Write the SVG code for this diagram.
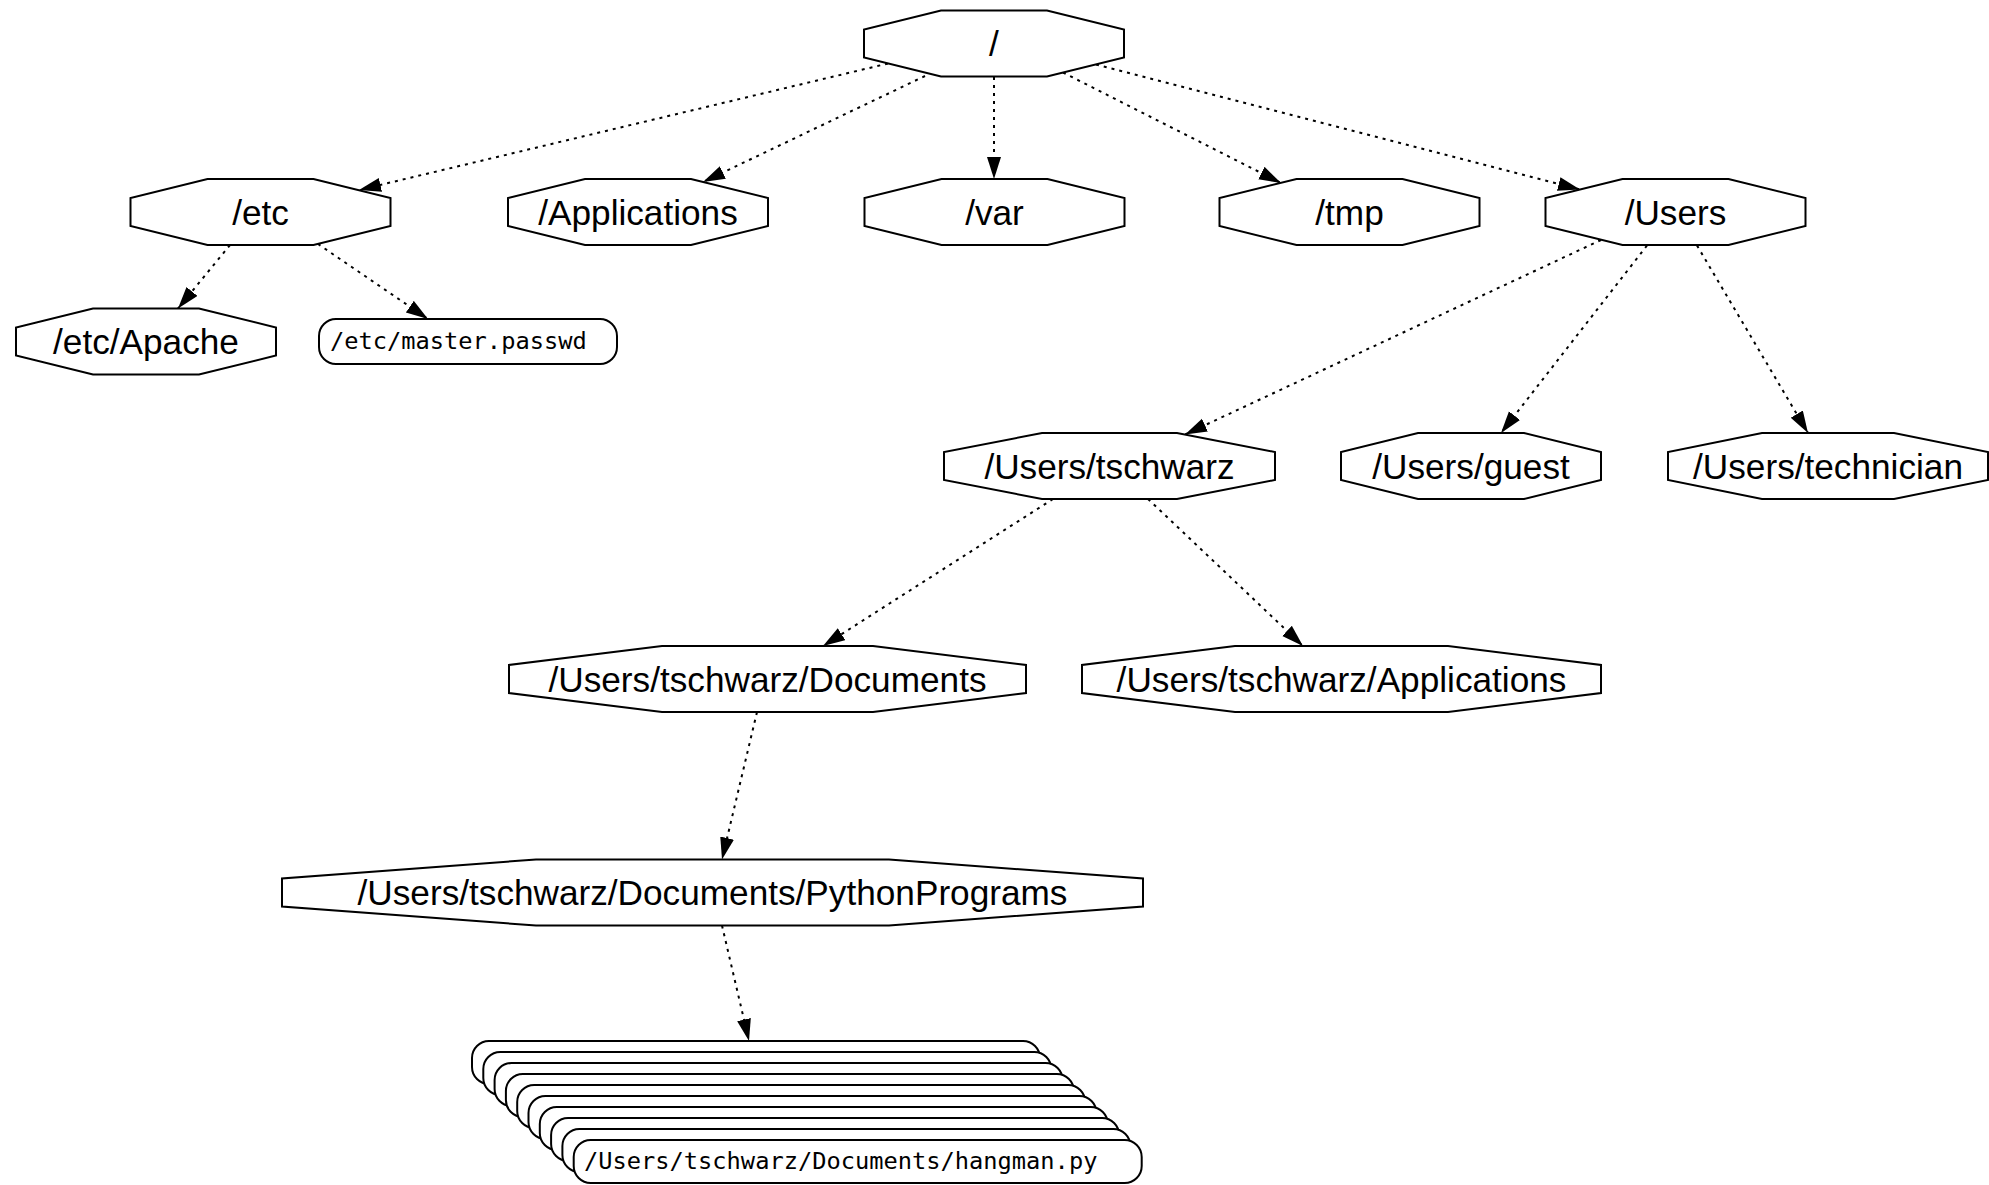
<svg xmlns="http://www.w3.org/2000/svg" width="1989" height="1185" viewBox="0 0 1989 1185">
<style>
.oct{fill:#fff;stroke:#000;stroke-width:2}
.rr{fill:#fff;stroke:#000;stroke-width:2}
.lbl{font-family:"Liberation Sans",Helvetica,Arial,sans-serif;font-size:35.2px;fill:#000;text-anchor:middle}
.mono{font-family:"DejaVu Sans Mono","Liberation Mono",monospace;font-size:23.7px;fill:#000}
.edge{fill:none;stroke:#000;stroke-width:2;stroke-dasharray:3 5}
</style>
<defs>
<marker id="ah" markerWidth="24" markerHeight="16" refX="22" refY="7" orient="auto" markerUnits="userSpaceOnUse">
<path d="M0,0 L22,7 L0,14 z" fill="#000"/>
</marker>
<polygon id="o260" points="-53,-33 53,-33 130,-14 130,14 53,33 -53,33 -130,14 -130,-14"/>
</defs>
<rect width="1989" height="1185" fill="#fff"/>
<g id="edges">
<line class="edge" x1="888" y1="63.5" x2="359" y2="190" marker-end="url(#ah)"/>
<line class="edge" x1="925" y1="76" x2="703" y2="182" marker-end="url(#ah)"/>
<line class="edge" x1="994" y1="77" x2="994" y2="179" marker-end="url(#ah)"/>
<line class="edge" x1="1063" y1="72.5" x2="1281" y2="183" marker-end="url(#ah)"/>
<line class="edge" x1="1096" y1="64.5" x2="1580" y2="189.5" marker-end="url(#ah)"/>
<line class="edge" x1="230" y1="245" x2="178" y2="308.5" marker-end="url(#ah)"/>
<line class="edge" x1="318" y1="244" x2="428" y2="319" marker-end="url(#ah)"/>
<line class="edge" x1="1601" y1="240" x2="1185" y2="434.5" marker-end="url(#ah)"/>
<line class="edge" x1="1647" y1="245.5" x2="1501" y2="433" marker-end="url(#ah)"/>
<line class="edge" x1="1697" y1="245.5" x2="1808" y2="433" marker-end="url(#ah)"/>
<line class="edge" x1="1053" y1="499" x2="823" y2="646" marker-end="url(#ah)"/>
<line class="edge" x1="1148" y1="499" x2="1303" y2="646" marker-end="url(#ah)"/>
<line class="edge" x1="757" y1="712" x2="722" y2="859.5" marker-end="url(#ah)"/>
<line class="edge" x1="722" y1="925.5" x2="749" y2="1041" marker-end="url(#ah)"/>
</g>
<g id="root" transform="translate(994,43.5)"><use href="#o260" class="oct"/><text class="lbl" y="12.5">/</text></g>
<g id="etc" transform="translate(260.5,212)"><use href="#o260" class="oct"/><text class="lbl" y="12.5">/etc</text></g>
<g id="applications" transform="translate(638,212)"><use href="#o260" class="oct"/><text class="lbl" y="12.5">/Applications</text></g>
<g id="var" transform="translate(994.5,212)"><use href="#o260" class="oct"/><text class="lbl" y="12.5">/var</text></g>
<g id="tmp" transform="translate(1349.5,212)"><use href="#o260" class="oct"/><text class="lbl" y="12.5">/tmp</text></g>
<g id="users" transform="translate(1675.5,212)"><use href="#o260" class="oct"/><text class="lbl" y="12.5">/Users</text></g>
<g id="etc-apache" transform="translate(146,341.5)"><use href="#o260" class="oct"/><text class="lbl" y="12.5">/etc/Apache</text></g>
<g id="etc-master-passwd"><rect class="rr" x="319" y="319" width="298" height="45" rx="17" ry="17"/><text class="mono" x="330" y="348.5">/etc/master.passwd</text></g>
<g id="users-tschwarz" transform="translate(1109.5,466)"><polygon class="oct" points="-67.5,-33 67.5,-33 165.5,-14 165.5,14 67.5,33 -67.5,33 -165.5,14 -165.5,-14"/><text class="lbl" y="12.5">/Users/tschwarz</text></g>
<g id="users-guest" transform="translate(1471,466)"><use href="#o260" class="oct"/><text class="lbl" y="12.5">/Users/guest</text></g>
<g id="users-technician" transform="translate(1828,466)"><polygon class="oct" points="-66,-33 66,-33 160,-14 160,14 66,33 -66,33 -160,14 -160,-14"/><text class="lbl" y="12.5">/Users/technician</text></g>
<g id="tschwarz-documents" transform="translate(767.5,679)"><polygon class="oct" points="-105.5,-33 105.5,-33 258.5,-14 258.5,14 105.5,33 -105.5,33 -258.5,14 -258.5,-14"/><text class="lbl" y="12.5">/Users/tschwarz/Documents</text></g>
<g id="tschwarz-applications" transform="translate(1341.5,679)"><polygon class="oct" points="-106.5,-33 106.5,-33 259.5,-14 259.5,14 106.5,33 -106.5,33 -259.5,14 -259.5,-14"/><text class="lbl" y="12.5">/Users/tschwarz/Applications</text></g>
<g id="python-programs" transform="translate(712.5,892.5)"><polygon class="oct" points="-176.5,-33 176.5,-33 430.5,-14 430.5,14 176.5,33 -176.5,33 -430.5,14 -430.5,-14"/><text class="lbl" y="12.5">/Users/tschwarz/Documents/PythonPrograms</text></g>
<g id="file-stack">
<g id="file1"><rect class="rr" x="472" y="1041" width="568" height="43" rx="17" ry="17"/></g>
<g id="file2"><rect class="rr" x="483.3" y="1052" width="568" height="43" rx="17" ry="17"/></g>
<g id="file3"><rect class="rr" x="494.6" y="1063" width="568" height="43" rx="17" ry="17"/></g>
<g id="file4"><rect class="rr" x="505.9" y="1074" width="568" height="43" rx="17" ry="17"/></g>
<g id="file5"><rect class="rr" x="517.2" y="1085" width="568" height="43" rx="17" ry="17"/></g>
<g id="file6"><rect class="rr" x="528.5" y="1096" width="568" height="43" rx="17" ry="17"/></g>
<g id="file7"><rect class="rr" x="539.8" y="1107" width="568" height="43" rx="17" ry="17"/></g>
<g id="file8"><rect class="rr" x="551.1" y="1118" width="568" height="43" rx="17" ry="17"/></g>
<g id="file9"><rect class="rr" x="562.4" y="1129" width="568" height="43" rx="17" ry="17"/></g>
<g id="file10"><rect class="rr" x="573.7" y="1140" width="568" height="43" rx="17" ry="17"/><text class="mono" x="584" y="1168.5">/Users/tschwarz/Documents/hangman.py</text></g>
</g>
</svg>
